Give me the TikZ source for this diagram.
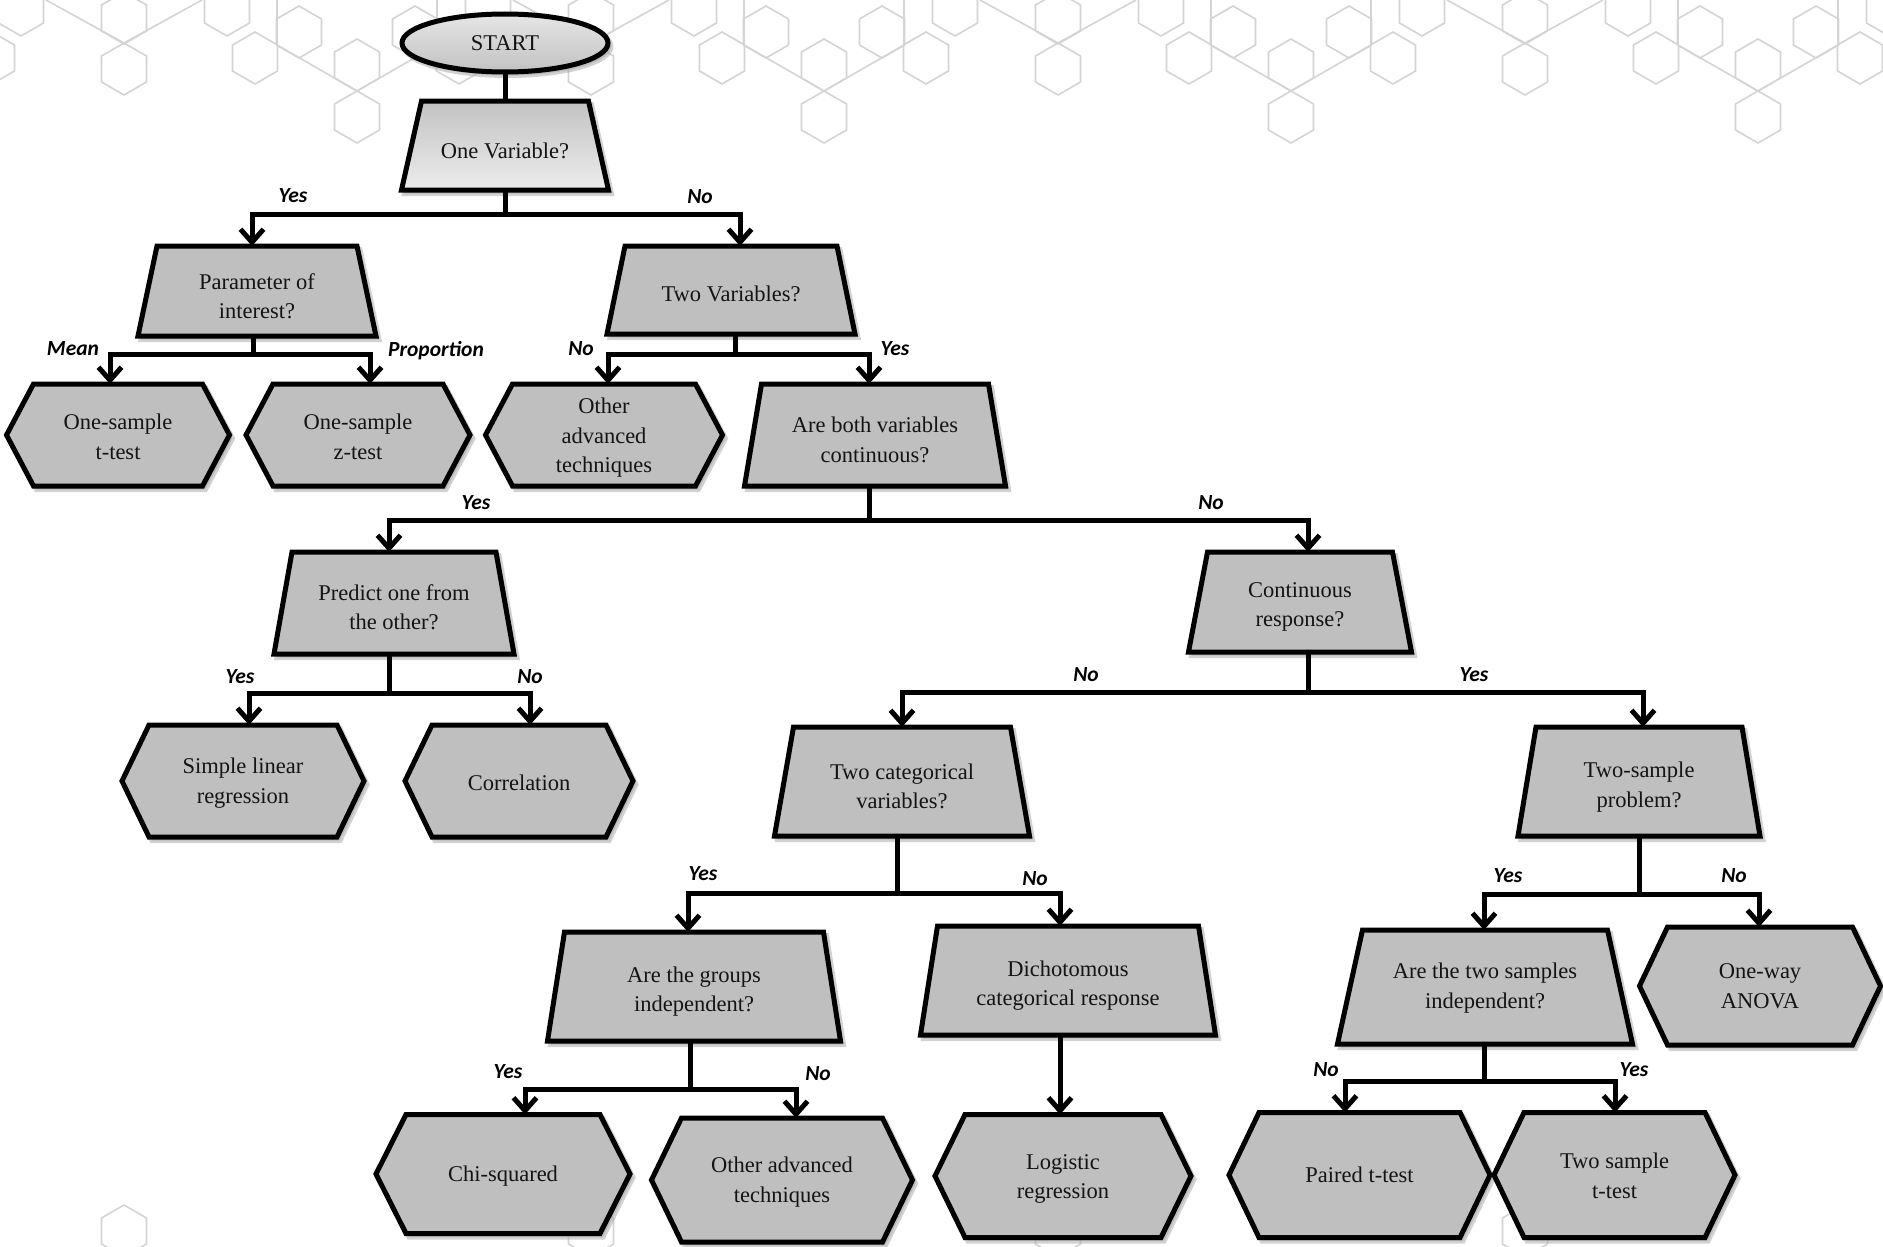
\documentclass[tikz,border=0pt]{standalone}
\usepackage{fontspec}
\setmainfont{Liberation Serif}
\newfontfamily\labfont{Carlito}
\usetikzlibrary{shapes.geometric,arrows.meta,backgrounds}
\definecolor{nodegray}{RGB}{191,191,191}
% #2 node, #3 indent, #4 upward shift of the outline relative to the text
\newcommand\trapz[4][]{\path[nshape,#1] ([xshift=#3,yshift=#4]#2.north west) -- ([xshift=-#3,yshift=#4]#2.north east) -- ([yshift=#4]#2.south east) -- ([yshift=#4]#2.south west) -- cycle;
 \coordinate (#2-t) at ([yshift=#4]#2.north); \coordinate (#2-b) at ([yshift=#4]#2.south);}
\newcommand\hexa[4][]{\path[nshape,#1] ([yshift=#4]#2.west) -- ([xshift=#3,yshift=#4]#2.north west) -- ([xshift=-#3,yshift=#4]#2.north east) -- ([yshift=#4]#2.east) -- ([xshift=-#3,yshift=#4]#2.south east) -- ([xshift=#3,yshift=#4]#2.south west) -- cycle;
 \coordinate (#2-t) at ([yshift=#4]#2.north); \coordinate (#2-b) at ([yshift=#4]#2.south);}
\begin{document}
\begin{tikzpicture}[x=1pt,y=-1pt,
 txt/.style={inner sep=0pt,outer sep=0pt,align=center,font=\fontsize{22.5}{29.5}\selectfont,text=black!92},
 lab/.style={inner sep=0pt,font=\labfont\bfseries\itshape\fontsize{21.5}{23}\selectfont},
 shadowed/.style={preaction={draw=black!35,fill=black!35,line width=5pt,opacity=.5,transform canvas={shift={(3pt,-3.5pt)}}}},
 nshape/.style={shadowed,draw=black,line width=5pt,fill=nodegray,line join=miter},
 conn/.style={draw=black,line width=5pt},
 arr/.style={conn,-{Straight Barb[length=13pt,width=23pt]}},
 hexbg/.style={draw=black!17,line width=1.6pt},
]
\useasboundingbox (0,0) rectangle (1883,1247);

% ---- nodes (text) ----
\node[txt,ellipse,draw=black,line width=5pt,shadowed,top color=black!10,bottom color=black!24,minimum width=206,minimum height=58] (start) at (505,43) {START};
\node[txt,minimum width=207,minimum height=89] (one) at (505,150.5) {One Variable?};
\node[txt,minimum width=238,minimum height=90] (param) at (257,296) {Parameter of\\interest?};
\node[txt,minimum width=248,minimum height=88] (twov) at (731,294) {Two Variables?};
\node[txt,minimum width=223,minimum height=102] (ttest) at (118,437) {One-sample\\t-test};
\node[txt,minimum width=224,minimum height=102] (ztest) at (358,437) {One-sample\\z-test};
\node[txt,minimum width=237,minimum height=102] (other1) at (604,438) {Other\\advanced\\techniques};
\node[txt,minimum width=261,minimum height=102] (both) at (875,440) {Are both variables\\continuous?};
\node[txt,minimum width=240,minimum height=102] (predict) at (394,607) {Predict one from\\the other?};
\node[txt,minimum width=223,minimum height=100] (contresp) at (1300,607) {Continuous\\response?};
\node[txt,minimum width=242,minimum height=112] (slr) at (243,783) {Simple linear\\regression};
\node[txt,minimum width=228,minimum height=112] (corr) at (519,783) {Correlation};
\node[txt,minimum width=255,minimum height=109] (twocat) at (902,786.5) {Two categorical\\variables?};
\node[txt,minimum width=242,minimum height=109] (twosamp) at (1639,787) {Two-sample\\problem?};
\node[txt,minimum width=293,minimum height=109] (groups) at (694,991.5) {Are the groups\\independent?};
\node[txt,minimum width=295,minimum height=109] (dich) at (1068,985.5) {Dichotomous\\categorical response};
\node[txt,minimum width=295,minimum height=114] (twoind) at (1485,988) {Are the two samples\\independent?};
\node[txt,minimum width=241,minimum height=118] (anova) at (1760,986) {One-way\\ANOVA};
\node[txt,minimum width=254,minimum height=119] (chi) at (503,1176) {Chi-squared};
\node[txt,minimum width=261,minimum height=124] (other2) at (782,1182) {Other advanced\\techniques};
\node[txt,minimum width=256,minimum height=123] (logit) at (1063,1179) {Logistic\\regression};
\node[txt,minimum width=261,minimum height=125] (paired) at (1359.5,1175) {Paired t-test};
\node[txt,minimum width=241,minimum height=125] (twot) at (1614.5,1176) {Two sample\\t-test};

% ---- background: pattern and shapes ----
\begin{scope}[on background layer]
 \fill[white] (0,0) rectangle (1883,1247);
 \begin{scope}
  \clip (0,0) rectangle (1883,1247);
  \foreach \X in {-343,124,591,1058,1525}{
   \foreach \dx/\cy in {0/69,0/18,103/10,131/58,175/32,233/65,233/117,291/32,335/58,364/10}{
    \draw[hexbg,shift={(\X+\dx,\cy)}] (0,-26) -- (22.5,-13) -- (22.5,13) -- (0,26) -- (-22.5,13) -- (-22.5,-13) -- cycle;
   }
   \draw[hexbg,shift={(\X,0)}] (153,-2) -- (153,45) (313,-2) -- (313,45) (153,45) -- (233,91) -- (313,45) (-78,0) -- (0,43) -- (78,0);
  }
  \foreach \X in {124,591,1058,1525}{
   \draw[hexbg,shift={(\X,1231)}] (0,-26) -- (22.5,-13) -- (22.5,13) -- (0,26) -- (-22.5,13) -- (-22.5,-13) -- cycle;
  }
 \end{scope}
 \trapz[top color=black!24,bottom color=black!7]{one}{20}{5}
 \trapz{param}{19}{5}
 \trapz{twov}{18}{4}
 \trapz{both}{17}{5}
 \trapz{predict}{18}{4}
 \trapz{contresp}{19}{5}
 \trapz{twocat}{19}{5}
 \trapz{twosamp}{18}{5.5}
 \trapz{groups}{17}{5}
 \trapz{dich}{17}{5}
 \trapz{twoind}{25}{1}
 \hexa{ttest}{27}{2}
 \hexa{ztest}{27}{2}
 \hexa{other1}{27}{3}
 \hexa{slr}{27}{2}
 \hexa{corr}{27}{2}
 \hexa{anova}{28}{0}
 \hexa{chi}{30}{2}
 \hexa{other2}{30}{2}
 \hexa{logit}{30}{3}
 \hexa{paired}{30}{0}
 \hexa{twot}{30}{1}
\end{scope}

% ---- connectors ----
\coordinate (j1) at (505,214);
\draw[conn] (start.south) -- (one-t);
\draw[conn] (one-b) -- (j1);
\draw[arr] (j1) -| ([xshift=-5]param-t);
\draw[arr] (j1) -| ([xshift=9]twov-t);

\coordinate (j2) at (253,354);
\draw[conn] ([xshift=-4]param-b) -- (j2);
\draw[arr] (j2) -| ([xshift=-8]ttest-t);
\draw[arr] (j2) -| ([xshift=12]ztest-t);
\coordinate (j3) at (735,354);
\draw[conn] ([xshift=4]twov-b) -- (j3);
\draw[arr] (j3) -| ([xshift=4]other1-t);
\draw[arr] (j3) -| ([xshift=-6]both-t);

\coordinate (j4) at (869,520);
\draw[conn] ([xshift=-6]both-b) -- (j4);
\draw[arr] (j4) -| ([xshift=-5]predict-t);
\draw[arr] (j4) -| ([xshift=8]contresp-t);

\coordinate (j5) at (389,693);
\draw[conn] ([xshift=-5]predict-b) -- (j5);
\draw[arr] (j5) -| ([xshift=6]slr-t);
\draw[arr] (j5) -| ([xshift=11]corr-t);

\coordinate (j6) at (1308,692);
\draw[conn] ([xshift=8]contresp-b) -- (j6);
\draw[arr] (j6) -| (twocat-t);
\draw[arr] (j6) -| ([xshift=4]twosamp-t);

\coordinate (j7) at (897,893);
\draw[conn] ([xshift=-5]twocat-b) -- (j7);
\draw[arr] (j7) -| ([xshift=-6]groups-t);
\draw[arr] (j7) -| ([xshift=-8]dich-t);

\coordinate (j8) at (1639,894);
\draw[conn] (twosamp-b) -- (j8);
\draw[arr] (j8) -| ([xshift=-1]twoind-t);
\draw[arr] (j8) -| ([xshift=-1]anova-t);

\coordinate (j9) at (690,1089);
\draw[conn] ([xshift=-4]groups-b) -- (j9);
\draw[arr] (j9) -| ([xshift=22]chi-t);
\draw[arr] (j9) -| ([xshift=14]other2-t);

\draw[arr] ([xshift=-8]dich-b) -- ([xshift=-3]logit-t);

\coordinate (j10) at (1484,1081);
\draw[conn] ([xshift=-1]twoind-b) -- (j10);
\draw[arr] (j10) -| ([xshift=-14.5]paired-t);
\draw[arr] (j10) -| ([xshift=0.5]twot-t);

% ---- labels ----
\node[lab] (l1) at (293,196) {Yes};
\node[lab] (l2) at (700,197) {No};
\node[lab] (l3) at (73,349) {Mean};
\node[lab] (l4) at (436,351) {Proportion};
\node[lab] (l5) at (581,349) {No};
\node[lab] (l6) at (895,349) {Yes};
\node[lab] (l7) at (476,503) {Yes};
\node[lab] (l8) at (1211,503) {No};
\node[lab] (l9) at (240,677) {Yes};
\node[lab] (l10) at (530,677) {No};
\node[lab] (l11) at (1086,675) {No};
\node[lab] (l12) at (1474,675) {Yes};
\node[lab] (l13) at (703,874) {Yes};
\node[lab] (l14) at (1035,879) {No};
\node[lab] (l15) at (1508,876) {Yes};
\node[lab] (l16) at (1734,876) {No};
\node[lab] (l17) at (508,1072) {Yes};
\node[lab] (l18) at (818,1074) {No};
\node[lab] (l19) at (1326,1070) {No};
\node[lab] (l20) at (1634,1070) {Yes};
\end{tikzpicture}
\end{document}
